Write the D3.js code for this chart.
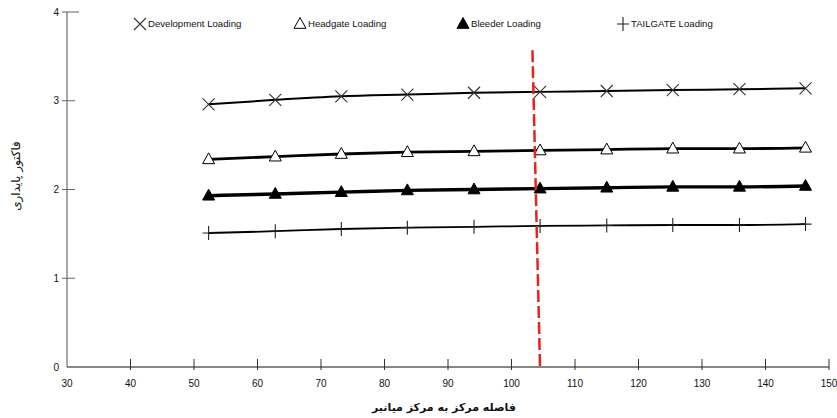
<!DOCTYPE html>
<html><head><meta charset="utf-8">
<script src="https://cdn.jsdelivr.net/npm/d3@7"></script>
<style>body{margin:0;background:#fff}svg{display:block;font-family:"Liberation Sans",Arial,sans-serif}</style>
</head><body><svg id="c" width="837" height="418"></svg>
<script>
const xValues = [52.3, 62.8, 73.2, 83.6, 94.1, 104.5, 115.0, 125.4, 135.9, 146.3];
const development = [2.96, 3.01, 3.05, 3.07, 3.09, 3.10, 3.11, 3.12, 3.13, 3.14];
const headgate = [2.34, 2.37, 2.40, 2.42, 2.43, 2.44, 2.45, 2.46, 2.46, 2.47];
const bleeder = [1.93, 1.95, 1.97, 1.99, 2.00, 2.01, 2.02, 2.03, 2.03, 2.04];
const tailgate = [1.51, 1.53, 1.555, 1.57, 1.58, 1.59, 1.595, 1.60, 1.60, 1.61];
const seriesNames = ["Development Loading", "Headgate Loading", "Bleeder Loading", "TAILGATE Loading"];
const xTicks = [30, 40, 50, 60, 70, 80, 90, 100, 110, 120, 130, 140, 150];
const yTicks = [0, 1, 2, 3, 4];
const limitLine = [[103.3, 3.57], [104.5, -0.03]];
const xTitle = "فاصله مرکز به مرکز میانبر";
const yTitle = "فاکتور پایداری";

const svg = d3.select("#c");
const x = d3.scaleLinear().domain([30, 150]).range([67, 829]);
const y = d3.scaleLinear().domain([0, 4]).range([367, 12]);

// Y axis (gray)
const gy = svg.append("g");
gy.append("line").attr("x1", x(30)).attr("x2", x(30)).attr("y1", y(4)).attr("y2", y(0)).attr("stroke", "#8a8a8a").attr("stroke-width", 1.5);
yTicks.forEach(t => {
  if (t > 0) gy.append("line").attr("x1", x(30) - 5).attr("x2", t === 4 ? x(30) + 12 : x(30) + 8).attr("y1", y(t)).attr("y2", y(t)).attr("stroke", "#666").attr("stroke-width", 1);
  gy.append("text").attr("x", x(30) - 8).attr("y", y(t)).attr("dy", "0.35em").attr("text-anchor", "end").attr("font-size", 10).attr("fill", "#111").text(t);
});

// X axis (black)
const gx = svg.append("g");
gx.append("line").attr("x1", x(30)).attr("x2", x(150)).attr("y1", y(0)).attr("y2", y(0)).attr("stroke", "#111").attr("stroke-width", 1);
xTicks.forEach(t => {
  if (t > 30) gx.append("line").attr("x1", x(t)).attr("x2", x(t)).attr("y1", y(0) - 8).attr("y2", y(0) + 3).attr("stroke", "#333").attr("stroke-width", 1);
  gx.append("text").attr("x", x(t)).attr("y", 383).attr("dy", "0.35em").attr("text-anchor", "middle").attr("font-size", 10).attr("fill", "#111").text(t);
});

// Titles
svg.append("text").attr("x", 444).attr("y", 407).attr("dy", "0.35em").attr("text-anchor", "middle")
  .attr("font-family", "'DejaVu Sans',sans-serif").attr("font-weight", "bold").attr("font-size", 11).attr("fill", "#111").text(xTitle);
svg.append("text").attr("transform", "translate(16,176) rotate(-90)").attr("dy", "0.35em").attr("text-anchor", "middle")
  .attr("font-family", "'DejaVu Sans',sans-serif").attr("font-size", 12).attr("fill", "#111").text(yTitle);

// Series
const line = d3.line().x(d => x(d[0])).y(d => y(d[1])).curve(d3.curveMonotoneX);
const series = [
  {vals: development, w: 2, m: "x"},
  {vals: headgate, w: 2.8, m: "tri"},
  {vals: bleeder, w: 3.4, m: "ftri"},
  {vals: tailgate, w: 1.8, m: "plus"}
];
function marker(g, type, cx, cy, s) {
  if (type === "x") {
    g.append("path").attr("d", `M${cx-s/2},${cy-s/2}L${cx+s/2},${cy+s/2}M${cx-s/2},${cy+s/2}L${cx+s/2},${cy-s/2}`).attr("stroke", "#333").attr("stroke-width", 1.1).attr("fill", "none");
  } else if (type === "tri" || type === "ftri") {
    const h = s * 0.9;
    g.append("path").attr("d", `M${cx},${cy-h*0.6}L${cx+s/2},${cy+h*0.4}L${cx-s/2},${cy+h*0.4}Z`)
      .attr("fill", type === "tri" ? "#fff" : "#000").attr("stroke", "#000").attr("stroke-width", 1);
  } else {
    g.append("path").attr("d", `M${cx-s/2},${cy}L${cx+s/2},${cy}M${cx},${cy-s/2-1}L${cx},${cy+s/2+1}`).attr("stroke", "#222").attr("stroke-width", 1.1).attr("fill", "none");
  }
}
series.forEach(s => {
  const pts = xValues.map((xv, i) => [xv, s.vals[i]]);
  svg.append("path").attr("d", line(pts)).attr("fill", "none").attr("stroke", "#000").attr("stroke-width", s.w);
  const g = svg.append("g");
  pts.forEach(p => marker(g, s.m, x(p[0]), y(p[1]), 12));
});

// Red dashed limit line
svg.append("line").attr("x1", x(limitLine[0][0])).attr("y1", y(limitLine[0][1])).attr("x2", x(limitLine[1][0])).attr("y2", y(limitLine[1][1]))
  .attr("stroke", "#e8231e").attr("stroke-width", 2.5).attr("stroke-dasharray", "12,4");

// Legend
const legendX = [140, 300, 463, 623];
const legendM = ["x", "tri", "ftri", "plus"];
seriesNames.forEach((n, i) => {
  const g = svg.append("g");
  marker(g, legendM[i], legendX[i], 24, 12);
  g.append("text").attr("x", legendX[i] + 8).attr("y", 24).attr("dy", "0.35em").attr("font-size", 9.6).attr("fill", "#111").text(n);
});
</script></body></html>
